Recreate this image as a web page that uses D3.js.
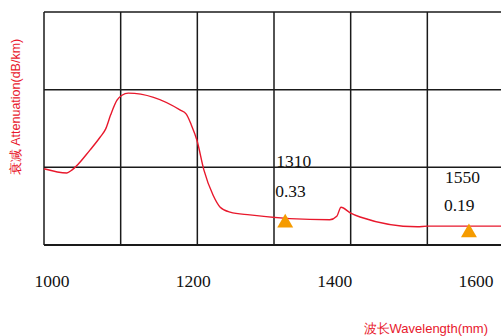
<!DOCTYPE html>
<html><head><meta charset="utf-8">
<script src="https://cdn.jsdelivr.net/npm/d3@7"></script>
<style>body{margin:0;background:#fff}svg{display:block}</style>
</head><body>
<script>
// ---- data ----
const xTickLabels = [1000, 1200, 1400, 1600];
const gridColumns = [0, 1, 2, 3, 4, 5, 6];
const gridRows = [0, 1, 2, 3];
const curveWavelength = [988.7, 1021, 1028, 1054, 1068, 1076, 1083, 1092, 1099, 1108, 1181, 1190, 1197, 1205, 1215, 1228, 1238, 1252, 1280, 1393, 1403, 1409, 1422, 1436, 1517, 1531, 1636];
const curveAttenuation = [1.09, 1.03, 1.07, 1.36, 1.54, 1.66, 1.86, 2.07, 2.14, 2.17, 1.93, 1.87, 1.72, 1.50, 1.07, 0.71, 0.54, 0.47, 0.43, 0.36, 0.41, 0.54, 0.46, 0.40, 0.26, 0.27, 0.27];
const markerLabels = ["1310", "1550"];
const markerValues = [0.33, 0.19];
const markerWavelength = [1330, 1590];

const W = 501, H = 336;
const svg = d3.select("body").append("svg").attr("width", W).attr("height", H);

const x = d3.scaleLinear().domain([1000, 1600]).range([52, 476]);
const y = d3.scaleLinear().domain([0, 3.33]).range([245, 12]);
const gx = d3.scaleLinear().domain([0, 6]).range([44, 504]);
const gy = d3.scaleLinear().domain([0, 3]).range([12, 245]);

const red = "#e8182c";

// grid
svg.append("g").selectAll("line").data(gridColumns).join("line")
  .attr("x1", d => gx(d)).attr("x2", d => gx(d))
  .attr("y1", gy(0)).attr("y2", gy(3))
  .attr("stroke", "#1a1a1a").attr("stroke-width", 1.5);
svg.append("g").selectAll("line").data(gridRows).join("line")
  .attr("x1", gx(0)).attr("x2", gx(6))
  .attr("y1", d => gy(d)).attr("y2", d => gy(d))
  .attr("stroke", "#1a1a1a").attr("stroke-width", d => d === 3 ? 2 : 1.5);

// curve
const pts = curveWavelength.map((w, i) => [w, curveAttenuation[i]]);
svg.append("path").datum(pts)
  .attr("fill", "none").attr("stroke", red).attr("stroke-width", 1.4)
  .attr("d", d3.line().x(d => x(d[0])).y(d => y(d[1])).curve(d3.curveMonotoneX));

// markers
const tri = d3.symbol().type(d3.symbolTriangle).size(110);
svg.append("g").selectAll("path").data(markerWavelength).join("path")
  .attr("transform", (d, i) => `translate(${x(d)},${y(markerValues[i]) + 1})`)
  .attr("d", tri).attr("fill", "#f59b00");

// annotations
const ann = svg.append("g").attr("font-family", "Liberation Serif, Times New Roman, serif")
  .attr("font-size", 17.5).attr("fill", "#111");
const labOffsets = [{dx: -9, y1: 167, y2: 197}, {dx: -24, y1: 183, y2: 211}];
markerWavelength.forEach((w, i) => {
  ann.append("text").attr("x", x(w) + labOffsets[i].dx).attr("y", labOffsets[i].y1).text(markerLabels[i]);
  ann.append("text").attr("x", x(w) + labOffsets[i].dx - 1).attr("y", labOffsets[i].y2).text(markerValues[i].toFixed(2));
});

// x tick labels
svg.append("g").selectAll("text").data(xTickLabels).join("text")
  .attr("x", d => x(d)).attr("y", 287).attr("text-anchor", "middle")
  .attr("font-family", "Liberation Serif, Times New Roman, serif").attr("font-size", 17.5)
  .attr("fill", "#111").text(d => d);

// axis titles
svg.append("text").attr("x", 488).attr("y", 333).attr("text-anchor", "end")
  .attr("font-family", "Liberation Sans, Arial, sans-serif").attr("font-size", 13)
  .attr("fill", red).text("波长Wavelength(mm)");
svg.append("text").attr("transform", "translate(20,107) rotate(-90)").attr("text-anchor", "middle")
  .attr("font-family", "Liberation Sans, Arial, sans-serif").attr("font-size", 12.5)
  .attr("fill", red).text("衰减 Attenuation(dB/km)");
</script>
</body></html>
